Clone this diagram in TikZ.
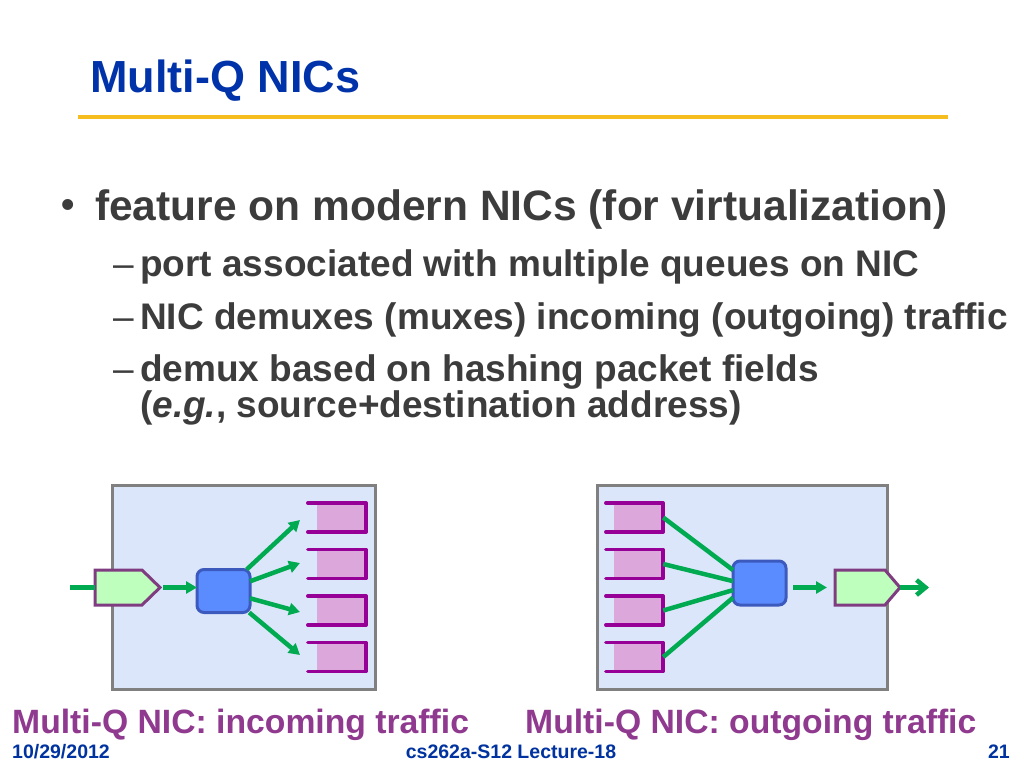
\documentclass[tikz,border=0pt]{standalone}
\usepackage{fontspec}
\setmainfont{Liberation Sans}
\usetikzlibrary{arrows.meta}
\definecolor{ctitle}{RGB}{0,51,170}
\definecolor{cbody}{RGB}{60,60,60}
\definecolor{ccap}{RGB}{143,57,143}
\definecolor{cfoot}{RGB}{0,51,160}
\definecolor{cgold}{RGB}{245,190,30}
\definecolor{cboxfill}{RGB}{220,230,250}
\definecolor{cboxgray}{RGB}{128,128,128}
\definecolor{cpktfill}{RGB}{190,255,190}
\definecolor{cpktline}{RGB}{128,60,128}
\definecolor{cmuxfill}{RGB}{90,140,255}
\definecolor{cmuxline}{RGB}{60,90,190}
\definecolor{cqfill}{RGB}{220,168,220}
\definecolor{cqline}{RGB}{150,0,150}
\definecolor{cgreen}{RGB}{0,170,80}
\begin{document}
\begin{tikzpicture}[x=1pt,y=-1pt,
  nicbox/.style={draw=cboxgray, line width=3pt, fill=cboxfill, rectangle, inner sep=0pt},
  pktanchor/.style={rectangle, minimum width=65pt, minimum height=35pt, inner sep=0pt, outer sep=0pt},
  pktshape/.style={draw=cpktline, line width=3pt, fill=cpktfill, line join=miter},
  muxbox/.style={draw=cmuxline, line width=3pt, fill=cmuxfill, rounded corners=7pt, minimum width=53pt, minimum height=43pt, inner sep=0pt, outer sep=0pt},
  qbox/.style={fill=cqfill, minimum width=49pt, minimum height=28.5pt, inner sep=0pt},
  qedge/.style={draw=cqline, line width=3.5pt, line join=round, line cap=round},
  garrow/.style={draw=cgreen, line width=4.5pt, -{Triangle[length=11pt,width=12pt]}},
  gline/.style={draw=cgreen, line width=4.5pt},
  txt/.style={anchor=base west, inner sep=0pt, text=cbody, font=\fontsize{42.5pt}{50pt}\selectfont\bfseries},
  subtxt/.style={anchor=base west, inner sep=0pt, text=cbody, font=\fontsize{37pt}{44pt}\selectfont\bfseries},
  dashtxt/.style={anchor=base west, inner sep=0pt, text=cbody, font=\fontsize{37pt}{44pt}\selectfont},
  captxt/.style={anchor=base west, inner sep=0pt, text=ccap, font=\fontsize{33.7pt}{40pt}\selectfont\bfseries},
  foottxt/.style={inner sep=0pt, text=cfoot, font=\fontsize{19.5pt}{22pt}\selectfont\bfseries}
]
\useasboundingbox[fill=white] (0,0) rectangle (1024,768);

% title
\node[anchor=base west, inner sep=0pt, text=ctitle, font=\fontsize{45pt}{54pt}\selectfont\bfseries] (title) at (90,92) {Multi-Q NICs};
\coordinate (ruleL) at (78,117);
\coordinate (ruleR) at (948,117);
\draw[cgold, line width=4pt] (ruleL) -- (ruleR);

% bullets
\node[anchor=base west, inner sep=0pt, text=cbody, font=\fontsize{38pt}{40pt}\selectfont\bfseries] (b0) at (61,217) {•};
\node[txt] (l1) at (95,220) {feature on modern NICs (for virtualization)};
\node[dashtxt] (d2) at (113,276) {–};
\node[subtxt] (l2) at (140,276) {port associated with multiple queues on NIC};
\node[dashtxt] (d3) at (113,329) {–};
\node[subtxt] (l3) at (140,329) {NIC demuxes (muxes) incoming (outgoing) traffic};
\node[dashtxt] (d4) at (113,381) {–};
\node[subtxt] (l4) at (140,381) {demux based on hashing packet fields};
\node[subtxt] (l5) at (140,417) {(\textit{e.g.}, source+destination address)};

% ---------- left diagram: incoming ----------
\node[nicbox, minimum width=263pt, minimum height=204pt] (boxL) at (243.5,587) {};
\foreach \i/\y in {1/517.5,2/564,3/610.5,4/657}{
  \node[qbox] (lq\i) at (341.5,\y) {};
  \draw[qedge] ([xshift=-9pt]lq\i.north west) -- (lq\i.north east) -- (lq\i.south east) -- ([xshift=-9pt]lq\i.south west);
}
\node[pktanchor] (inpkt) at (127.5,587.5) {};
\draw[pktshape] (inpkt.north west) -- ([xshift=-18pt]inpkt.north east) -- (inpkt.east) -- ([xshift=-18pt]inpkt.south east) -- (inpkt.south west) -- cycle;
\node[muxbox] (muxL) at (223.5,591) {};
\coordinate (inL) at (70,587.5);
\draw[gline] (inL) -- (inpkt.west);
\draw[garrow, shorten <=3pt] (inpkt.east) -- (inpkt.east -| muxL.west);
\coordinate (t1) at (300,520);
\coordinate (t2) at (300,563);
\coordinate (t3) at (300,612);
\coordinate (t4) at (300,655);
\foreach \i in {1,2,3,4}{\draw[garrow] (muxL) -- (t\i);}

% ---------- right diagram: outgoing ----------
\node[nicbox, minimum width=290pt, minimum height=204pt] (boxR) at (742,587) {};
\foreach \i/\y in {1/517.5,2/564,3/610.5,4/657}{
  \node[qbox] (rq\i) at (638.5,\y) {};
  \draw[qedge] ([xshift=-8pt]rq\i.north west) -- (rq\i.north east) -- (rq\i.south east) -- ([xshift=-8pt]rq\i.south west);
}
\node[muxbox, minimum height=44pt] (muxR) at (759.5,583) {};
\node[pktanchor] (outpkt) at (867.5,587.5) {};
\draw[pktshape] (outpkt.north west) -- ([xshift=-15pt]outpkt.north east) -- (outpkt.east) -- ([xshift=-15pt]outpkt.south east) -- (outpkt.south west) -- cycle;
\draw[gline] (rq1.east) -- (muxR.154);
\draw[gline] (rq2.east) -- (muxR.176);
\draw[gline] (rq3.east) -- (muxR.195);
\draw[gline] (rq4.east) -- (muxR.209);
\draw[garrow, shorten <=7pt, shorten >=8pt] (outpkt.west -| muxR.east) -- (outpkt.west);
\coordinate (outR) at (929,587.5);
\draw[gline, -{Straight Barb[length=9pt,width=15pt]}] (outpkt.east) -- (outR);

% captions
\node[captxt] (capL) at (12,733) {Multi-Q NIC: incoming traffic};
\node[captxt] (capR) at (525,733) {Multi-Q NIC: outgoing traffic};

% footer
\node[foottxt, anchor=base west] (date) at (12,758) {10/29/2012};
\node[foottxt, anchor=base] (course) at (511,758) {cs262a-S12 Lecture-18};
\node[foottxt, anchor=base east] (page) at (1010,758) {21};
\end{tikzpicture}
\end{document}
